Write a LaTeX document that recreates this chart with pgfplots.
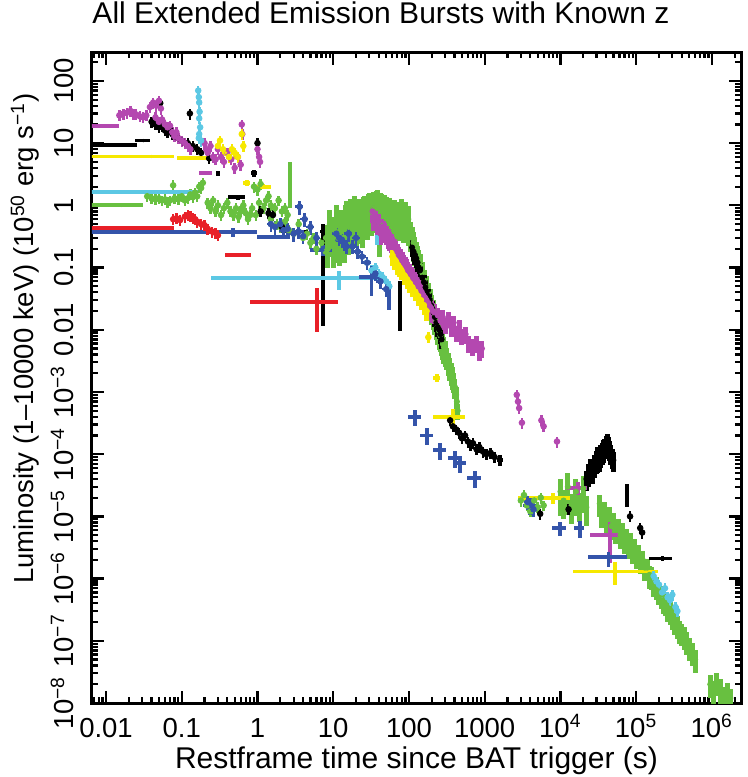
\documentclass[border=0pt]{standalone}
\usepackage{fontspec}
\setmainfont{Liberation Sans}
\usepackage{pgfplots}
\pgfplotsset{compat=1.18}
\definecolor{cmag}{RGB}{180,72,176}
\definecolor{ccyan}{RGB}{92,200,228}
\definecolor{cyel}{RGB}{246,232,0}
\definecolor{cgrn}{RGB}{104,192,64}
\definecolor{cblu}{RGB}{52,84,170}
\definecolor{cred}{RGB}{232,32,40}
\pgfplotsset{
  dots/.style={only marks, mark=*, mark size=1.1pt,
    error bars/x dir=both, error bars/x fixed relative=0.06,
    error bars/y dir=both, error bars/y fixed relative=0.2,
    error bars/error mark=none,
    error bars/error bar style={line width=1pt, solid}},
  bars/.style={only marks, mark=*, mark size=0.4pt,
    error bars/x dir=both, error bars/x explicit relative,
    error bars/y dir=both, error bars/y explicit relative,
    error bars/error mark=none,
    error bars/error bar style={line width=1.5pt, solid}},
  band/.style={only marks, mark=*, mark size=1pt,
    error bars/x dir=both, error bars/x fixed relative=0.015,
    error bars/y dir=both, error bars/y explicit relative,
    error bars/error mark=none,
    error bars/error bar style={line width=2pt, solid}},
}
\begin{document}
\begin{tikzpicture}
\path[use as bounding box] (-36.8pt,-29.6pt) rectangle (262.4pt,281.2pt);
\begin{axis}[
  at={(0pt,0pt)}, anchor=south west,
  scale only axis, width=259.6pt, height=260.4pt,
  xmode=log, ymode=log,
  xmin=0.00653, xmax=2.42e6, ymin=1e-8, ymax=292,
  axis line style={line width=1.2pt},
  tick align=inside,
  major tick length=5pt, minor tick length=2.5pt,
  every tick/.style={line width=0.9pt, black},
  xtick={0.01,0.1,1,10,100,1000,1e4,1e5,1e6},
  xticklabels={0.01,0.1,1,10,100,1000,10\textsuperscript{4},10\textsuperscript{5},10\textsuperscript{6}},
  minor xtick={7e-3,8e-3,9e-3,2e-2,3e-2,4e-2,5e-2,6e-2,7e-2,8e-2,9e-2,2e-1,3e-1,4e-1,5e-1,6e-1,7e-1,8e-1,9e-1,2,3,4,5,6,7,8,9,20,30,40,50,60,70,80,90,200,300,400,500,600,700,800,900,2e3,3e3,4e3,5e3,6e3,7e3,8e3,9e3,2e4,3e4,4e4,5e4,6e4,7e4,8e4,9e4,2e5,3e5,4e5,5e5,6e5,7e5,8e5,9e5,2e6},
  ytick={1e-8,1e-7,1e-6,1e-5,1e-4,1e-3,0.01,0.1,1,10,100},
  yticklabels={10\textsuperscript{−8},10\textsuperscript{−7},10\textsuperscript{−6},10\textsuperscript{−5},10\textsuperscript{−4},10\textsuperscript{−3},0.01,0.1,1,10,100},
  minor ytick={2e-8,3e-8,4e-8,5e-8,6e-8,7e-8,8e-8,9e-8,2e-7,3e-7,4e-7,5e-7,6e-7,7e-7,8e-7,9e-7,2e-6,3e-6,4e-6,5e-6,6e-6,7e-6,8e-6,9e-6,2e-5,3e-5,4e-5,5e-5,6e-5,7e-5,8e-5,9e-5,2e-4,3e-4,4e-4,5e-4,6e-4,7e-4,8e-4,9e-4,2e-3,3e-3,4e-3,5e-3,6e-3,7e-3,8e-3,9e-3,2e-2,3e-2,4e-2,5e-2,6e-2,7e-2,8e-2,9e-2,2e-1,3e-1,4e-1,5e-1,6e-1,7e-1,8e-1,9e-1,2,3,4,5,6,7,8,9,20,30,40,50,60,70,80,90,200},
  xticklabel style={font=\fontsize{11}{13}\selectfont, inner sep=0pt, text height=8pt, anchor=north},
  xticklabel shift=5.5pt,
  yticklabel style={font=\fontsize{11}{13}\selectfont, rotate=90, anchor=south, inner sep=0pt, text depth=0pt},
  yticklabel shift=7pt,
  title={All Extended Emission Bursts with Known z},
  title style={font=\fontsize{12}{14}\selectfont, at={(axis description cs:0,1)}, anchor=base west, inner sep=0pt, yshift=5.5pt},
  xlabel={Restframe time since BAT trigger (s)},
  xlabel style={font=\fontsize{12}{14}\selectfont, at={(axis description cs:0.5,-0.101)}, anchor=base, inner sep=0pt},
  ylabel={Luminosity (1–10000 keV) (10\textsuperscript{50} erg s\textsuperscript{−1})},
  ylabel style={font=\fontsize{11}{13}\selectfont, at={(axis description cs:-0.103,0.56)}, anchor=center, inner sep=0pt},
]
% ---------------- GREEN ----------------
\addplot[bars, color=cgrn] coordinates {
 (0.016,1.0) += (0.95,0) -= (0.99,0)
 (2.7,2.5) += (0.02,1.0) -= (0.02,0.64)
};
\addplot[dots, color=cgrn] coordinates {
 (0.035,1.4)(0.04,1.3)(0.045,1.25)(0.05,1.3)(0.055,1.2)(0.06,1.25)(0.065,1.15)(0.07,1.2)(0.077,2.1)(0.08,1.3)(0.09,1.25)(0.1,1.4)(0.11,1.2)(0.12,1.3)(0.13,1.5)(0.14,1.35)(0.15,1.6)(0.16,1.4)(0.17,2.0)(0.18,1.9)(0.19,2.3)
 (0.22,1.1)(0.24,0.9)(0.26,1.2)(0.28,0.8)(0.3,1.0)(0.33,0.7)(0.36,0.9)(0.4,1.1)(0.44,0.8)(0.48,0.7)(0.52,0.9)(0.56,0.65)(0.6,0.8)(0.65,1.0)(0.7,0.75)(0.75,0.6)(0.8,0.7)(0.85,0.9)(0.9,2.0)(0.95,0.7)(1.0,1.8)(1.05,1.1)(1.1,2.2)(1.2,0.9)(1.3,1.2)(1.4,1.4)(1.5,1.0)(1.7,0.9)(1.9,1.2)(2.1,0.8)(2.3,0.9)(2.5,0.7)
 (1.5,0.6)(1.8,0.5)(2.0,0.45)(2.3,0.55)(2.6,0.4)(3.0,0.35)(3.5,0.5)(4.0,0.3)(4.5,0.35)(5,0.25)(5.5,0.3)(6,0.2)(7,0.25)(8,0.18)(9,0.22)
 (3000,1.8e-5)(3300,2.2e-5)(3600,1.5e-5)(4000,1.2e-5)(4500,1.8e-5)(5000,1.4e-5)(5500,2.0e-5)(6000,1.5e-5)
};
\addplot[band, color=cgrn] coordinates {
 (8,0.3) +- (0,0.6) (8.5,0.2) +- (0,0.5) (9,0.5) +- (0,0.7) (9.5,0.3) +- (0,0.5) (10,0.25) +- (0,0.6)
 (10.5,0.4) +- (0,0.6) (11,0.6) +- (0,0.7) (11.5,0.3) +- (0,0.6) (12,0.35) +- (0,0.7) (12.5,0.5) +- (0,0.6)
 (13,0.5) +- (0,0.7) (13.5,0.3) +- (0,0.5) (14,0.3) +- (0,0.6) (14.5,0.6) +- (0,0.7) (15,0.7) +- (0,0.7)
 (16,0.45) +- (0,0.65) (17,0.8) +- (0,0.6) (18,0.5) +- (0,0.6) (19,0.9) +- (0,0.6) (20,0.55) +- (0,0.6)
 (21,0.7) +- (0,0.6) (22,0.8) +- (0,0.6) (23,0.6) +- (0,0.6) (24,0.6) +- (0,0.65) (25,0.9) +- (0,0.5)
 (26,0.9) +- (0,0.6) (27,0.7) +- (0,0.55) (28,0.7) +- (0,0.6) (29,1.0) +- (0,0.5) (30,1.0) +- (0,0.6)
 (31,0.8) +- (0,0.55) (32,0.8) +- (0,0.6) (33,1.1) +- (0,0.45) (34,1.1) +- (0,0.5) (35,0.9) +- (0,0.5)
 (36,0.9) +- (0,0.6) (37,1.2) +- (0,0.4) (38,1.2) +- (0,0.45) (39,1.0) +- (0,0.5) (40,0.9) +- (0,0.55)
 (41,0.5) +- (0,0.7) (42,1.1) +- (0,0.45) (43,1.0) +- (0,0.5) (45,0.95) +- (0,0.5) (46,0.85) +- (0,0.55)
 (48,1.0) +- (0,0.45) (50,0.9) +- (0,0.5) (52,0.85) +- (0,0.5) (54,0.75) +- (0,0.55) (56,0.9) +- (0,0.45)
 (58,0.8) +- (0,0.5) (60,0.75) +- (0,0.55) (63,0.7) +- (0,0.55) (65,0.8) +- (0,0.5) (68,0.75) +- (0,0.5)
 (70,0.65) +- (0,0.55) (73,0.6) +- (0,0.55) (76,0.65) +- (0,0.5) (80,0.8) +- (0,0.6) (82,0.6) +- (0,0.5)
 (85,0.55) +- (0,0.55) (90,0.7) +- (0,0.6) (94,0.55) +- (0,0.5) (98,0.6) +- (0,0.6)
 (100,0.45) +- (0,0.5) (105,0.36) +- (0,0.5) (110,0.3) +- (0,0.5) (115,0.25) +- (0,0.5) (120,0.21) +- (0,0.5)
 (125,0.175) +- (0,0.5) (130,0.15) +- (0,0.5) (135,0.128) +- (0,0.5) (140,0.11) +- (0,0.5) (150,0.082) +- (0,0.5)
 (160,0.062) +- (0,0.5) (170,0.048) +- (0,0.5) (180,0.038) +- (0,0.5) (190,0.03) +- (0,0.5) (200,0.024) +- (0,0.5)
 (210,0.02) +- (0,0.5) (220,0.0164) +- (0,0.5) (230,0.0137) +- (0,0.5) (240,0.0113) +- (0,0.5) (250,0.0096) +- (0,0.5)
 (260,0.0081) +- (0,0.45) (270,0.007) +- (0,0.45) (280,0.0059) +- (0,0.45) (290,0.0052) +- (0,0.45) (300,0.0045) +- (0,0.45)
 (315,0.0037) +- (0,0.4) (330,0.003) +- (0,0.4) (345,0.0025) +- (0,0.4) (360,0.0021) +- (0,0.4) (375,0.0018) +- (0,0.4)
 (390,0.0015) +- (0,0.35) (405,0.0012) +- (0,0.35) (420,0.0009) +- (0,0.35) (430,0.0007) +- (0,0.3) (440,0.0005) +- (0,0.3)
 (10000,2.5e-5) +- (0,0.6) (11000,1.8e-5) +- (0,0.5) (12500,3e-5) +- (0,0.65) (14000,1.5e-5) +- (0,0.5)
 (16000,2.5e-5) +- (0,0.6) (18000,1.6e-5) +- (0,0.5) (20000,2.8e-5) +- (0,0.6) (22000,1.4e-5) +- (0,0.5)
 (33000,1.6e-5) +- (0,0.4) (35000,1.1e-5) +- (0,0.4) (38000,1.2e-5) +- (0,0.4) (40000,0.9e-5) +- (0,0.4)
 (44000,1.0e-5) +- (0,0.4) (47000,7e-6) +- (0,0.4) (50000,8e-6) +- (0,0.4) (54000,6e-6) +- (0,0.4)
 (58000,6.5e-6) +- (0,0.4) (62000,5e-6) +- (0,0.4) (66000,5.5e-6) +- (0,0.4) (70000,4.2e-6) +- (0,0.4)
 (75000,4.5e-6) +- (0,0.4) (80000,3.5e-6) +- (0,0.4) (85000,3.8e-6) +- (0,0.4) (90000,2.9e-6) +- (0,0.4)
 (96000,3.1e-6) +- (0,0.4) (100000,2.4e-6) +- (0,0.4) (108000,2.5e-6) +- (0,0.4) (115000,2.0e-6) +- (0,0.4)
 (122000,2.0e-6) +- (0,0.4) (130000,1.5e-6) +- (0,0.4) (140000,1.5e-6) +- (0,0.4) (150000,1.15e-6) +- (0,0.4)
 (160000,1.1e-6) +- (0,0.4) (170000,8.5e-7) +- (0,0.4) (185000,7.5e-7) +- (0,0.4) (200000,6.2e-7) +- (0,0.4)
 (215000,5.5e-7) +- (0,0.4) (230000,4.5e-7) +- (0,0.4) (245000,4.2e-7) +- (0,0.4) (260000,3.4e-7) +- (0,0.4)
 (280000,3.0e-7) +- (0,0.4) (300000,2.5e-7) +- (0,0.4) (325000,2.1e-7) +- (0,0.4) (350000,1.8e-7) +- (0,0.4)
 (375000,1.5e-7) +- (0,0.4) (400000,1.35e-7) +- (0,0.4) (430000,1.2e-7) +- (0,0.4) (460000,1.0e-7) +- (0,0.4)
 (500000,8e-8) +- (0,0.4) (550000,6.5e-8) +- (0,0.4) (600000,5e-8) +- (0,0.4)
 (950000,2e-8) +- (0,0.4) (1.05e6,1.6e-8) +- (0,0.4) (1.15e6,2.2e-8) +- (0,0.4) (1.3e6,1.6e-8) +- (0,0.5)
 (1.45e6,1.2e-8) +- (0,0.5) (1.6e6,1.5e-8) +- (0,0.4) (1.75e6,1.2e-8) +- (0,0.4)
};
% ---------------- BLACK ----------------
\addplot[bars, color=black] coordinates {
 (0.013,9.4) += (1,0) -= (0.97,0)
 (0.031,11) +- (0.23,0)
 (0.3,3.3) +- (0.07,0.1)
 (0.9,3.3) +- (0.1,0.12)
 (0.55,1.35) +- (0.25,0.08)
 (3.4,0.38) +- (0.35,0.05)
 (7.3,0.38) += (0.07,0.3) -= (0.07,0.97)
 (76,0.035) +- (0.02,0.73)
 (1600,8e-5) +- (0.1,0.2)
 (223000,2.1e-6) +- (0.34,0.1)
 (76000,2.4e-5) +- (0.03,0.4)
};
\addplot[dots, color=black] coordinates {
 (0.04,22)(0.045,20)(0.05,18)(0.052,44)(0.055,19)(0.06,16)(0.065,15)(0.07,17)(0.075,14)(0.08,13)(0.09,12)(0.1,11)(0.11,10)(0.12,10)(0.128,30)(0.14,9)(0.16,8)(0.18,7)(0.23,5.7)(1.0,10)(1.1,0.8)(1.4,0.75)(1.6,0.7)(2.1,0.45)
 (350,3.5e-4)(380,2.8e-4)(420,2.5e-4)(460,2.2e-4)(500,1.8e-4)(550,2e-4)(600,1.6e-4)(650,1.4e-4)(700,1.5e-4)(780,1.2e-4)(850,1.3e-4)(950,1.1e-4)(1050,1.0e-4)(1200,1.05e-4)(1350,9e-5)
 (5400,1.1e-5)(12800,1.3e-5)
 (83000,1e-5)(113000,6.5e-6)(120000,5.5e-6)
};
\addplot[band, color=black] coordinates {
 (110,0.21) +- (0,0.3) (115,0.18) +- (0,0.3) (120,0.16) +- (0,0.3) (125,0.14) +- (0,0.3) (130,0.12) +- (0,0.3)
 (135,0.10) +- (0,0.3) (140,0.09) +- (0,0.3) (150,0.069) +- (0,0.3) (158,0.058) +- (0,0.3) (165,0.048) +- (0,0.3)
 (172,0.041) +- (0,0.3) (180,0.035) +- (0,0.3) (188,0.03) +- (0,0.3) (195,0.025) +- (0,0.3) (203,0.022) +- (0,0.3)
 (210,0.019) +- (0,0.3) (220,0.016) +- (0,0.3) (230,0.013) +- (0,0.3) (240,0.011) +- (0,0.3) (250,0.010) +- (0,0.3)
 (260,0.0085) +- (0,0.3) (270,0.007) +- (0,0.3)
 (22000,4e-5) +- (0,0.35) (23500,5e-5) +- (0,0.4) (25000,6e-5) +- (0,0.4) (26500,5.5e-5) +- (0,0.4)
 (28000,7e-5) +- (0,0.4) (29500,8e-5) +- (0,0.4) (31000,9e-5) +- (0,0.45) (32500,8.5e-5) +- (0,0.4)
 (34000,1.0e-4) +- (0,0.4) (35500,1.1e-4) +- (0,0.4) (37000,1.2e-4) +- (0,0.4) (38500,1.3e-4) +- (0,0.35)
 (40000,1.45e-4) +- (0,0.35) (41500,1.6e-4) +- (0,0.3) (43000,1.4e-4) +- (0,0.35) (44500,1.2e-4) +- (0,0.35)
 (46000,1.05e-4) +- (0,0.35) (48000,9e-5) +- (0,0.35) (50000,8e-5) +- (0,0.35)
};
% ---------------- MAGENTA ----------------
\addplot[bars, color=cmag] coordinates {
 (0.0075,19) +- (0.95,0)
 (0.21,3.3) +- (0.2,0.08)
 (17000,2.9e-5) +- (0.3,0.25)
 (45000,5e-6) +- (0.45,0.65)
};
\addplot[dots, color=cmag] coordinates {
 (0.015,28)(0.017,30)(0.019,31)(0.021,33)(0.023,30)(0.025,29)(0.028,27)(0.031,26)(0.034,28)
 (0.038,38)(0.042,45)(0.046,40)(0.050,48)(0.053,36)
 (0.045,26)(0.050,22)(0.055,24)(0.060,20)(0.065,18)(0.070,19)(0.075,15)(0.080,13)(0.085,15)(0.090,12)(0.10,11)(0.11,10)(0.12,9)(0.13,8)
 (0.20,10)(0.21,8)(0.22,7)(0.24,9)(0.26,6)(0.28,5.5)
 (0.30,8)(0.33,6)(0.36,5)(0.40,7)(0.45,5.5)(0.50,4)(0.55,6)(0.60,4.5)(0.62,20)(0.63,14)
 (1.0,8)(1.05,6)(1.08,5)
 (2650,9e-4)(2750,7e-4)(2850,5.5e-4)(3100,3.2e-4)(5600,3.5e-4)(6000,2.8e-4)(9000,1.6e-4)
};
\addplot[band, color=cmag] coordinates {
 (33,0.80) +- (0,0.35) (34,0.6) +- (0,0.35) (35,0.75) +- (0,0.35) (36,0.67) +- (0,0.35) (38,0.45) +- (0,0.35)
 (40,0.54) +- (0,0.35) (42,0.35) +- (0,0.35) (44,0.45) +- (0,0.35) (46,0.42) +- (0,0.35) (48,0.38) +- (0,0.35)
 (50,0.35) +- (0,0.35) (53,0.31) +- (0,0.35) (55,0.28) +- (0,0.35) (58,0.26) +- (0,0.35) (61,0.23) +- (0,0.35)
 (64,0.21) +- (0,0.35) (67,0.2) +- (0,0.35) (70,0.18) +- (0,0.35) (73,0.16) +- (0,0.35) (77,0.147) +- (0,0.35)
 (81,0.13) +- (0,0.35) (85,0.12) +- (0,0.35) (89,0.11) +- (0,0.35) (93,0.10) +- (0,0.35) (97,0.09) +- (0,0.35)
 (102,0.084) +- (0,0.35) (107,0.075) +- (0,0.35) (112,0.069) +- (0,0.35) (117,0.063) +- (0,0.35) (123,0.058) +- (0,0.35)
 (129,0.052) +- (0,0.35) (135,0.048) +- (0,0.35) (141,0.044) +- (0,0.35) (148,0.040) +- (0,0.35) (155,0.036) +- (0,0.35)
 (163,0.033) +- (0,0.35) (171,0.030) +- (0,0.35) (180,0.027) +- (0,0.35) (189,0.024) +- (0,0.35) (198,0.022) +- (0,0.35)
 (206,0.02) +- (0,0.35) (215,0.019) +- (0,0.35)
 (240,0.017) +- (0,0.3) (260,0.014) +- (0,0.3) (280,0.016) +- (0,0.3) (300,0.012) +- (0,0.3) (330,0.015) +- (0,0.3)
 (360,0.011) +- (0,0.3) (390,0.013) +- (0,0.3) (420,0.009) +- (0,0.3) (460,0.011) +- (0,0.3) (500,0.008) +- (0,0.3)
 (560,0.0085) +- (0,0.3) (620,0.006) +- (0,0.3) (700,0.0055) +- (0,0.3) (780,0.006) +- (0,0.3) (850,0.0045) +- (0,0.3)
 (920,0.005) +- (0,0.3)
};
% ---------------- YELLOW ----------------
\addplot[bars, color=cyel] coordinates {
 (0.04,6.1) +- (0.99,0)
 (0.19,5.7) +- (0.55,0)
 (0.38,7) +- (0.08,0.1)
 (1.2,2.0) +- (0.25,0.1)
 (0.72,2.3) +- (0.1,0.12)
 (234,1.7e-3) +- (0.1,0.15)
 (380,4e-4) +- (0.45,0.35)
 (8000,2e-5) +- (0.66,0.2)
 (52500,1.3e-6) += (2.7,0.4) -= (0.72,0.4)
};
\addplot[dots, color=cyel] coordinates {
 (0.3,9)(0.32,11)(0.35,8)(0.42,6)(0.46,8)(0.5,7)(0.55,6)(0.62,14)(0.65,9)(180,0.0076)
};
\addplot[band, color=cyel] coordinates {
 (60,0.15) +- (0,0.3) (65,0.13) +- (0,0.3) (70,0.11) +- (0,0.3) (75,0.10) +- (0,0.3) (80,0.09) +- (0,0.3)
 (87,0.075) +- (0,0.3) (95,0.065) +- (0,0.3) (103,0.056) +- (0,0.3) (112,0.048) +- (0,0.3) (122,0.041) +- (0,0.3)
 (133,0.035) +- (0,0.3) (145,0.03) +- (0,0.3) (158,0.025) +- (0,0.3) (172,0.02) +- (0,0.3)
};
% ---------------- CYAN ----------------
\addplot[bars, color=ccyan] coordinates {
 (0.085,1.64) += (0.9,0) -= (0.99,0)
 (12,0.068) += (2.5,0.3) -= (0.98,0.35)
 (38,0.28) +- (0.03,0.18)
};
\addplot[dots, color=ccyan] coordinates {
 (0.165,70)(0.168,55)(0.17,45)(0.172,32)(0.17,25)(0.175,18)(0.17,14)(0.168,12)(0.18,11)
 (28,0.12)(32,0.09)(36,0.1)(40,0.08)(45,0.07)(50,0.06)(55,0.05)
 (170000,1.1e-6)(185000,9e-7)(200000,8e-7)(220000,6e-7)(240000,7e-7)(260000,5e-7)(280000,4.5e-7)(300000,5.5e-7)(330000,3.5e-7)(350000,3e-7)
};
% ---------------- BLUE ----------------
\addplot[bars, color=cblu] coordinates {
 (0.5,0.37) += (1.0,0) -= (0.998,0)
 (1.85,0.31) +- (0.46,0)
 (0.47,0.37) +- (0.06,0.15)
 (7.3,0.19) +- (0.32,0.2)
 (32,0.07) +- (0.31,0.5)
 (55,0.033) +- (0.05,0.36)
 (120,4e-4) +- (0.2,0.3)
 (173,2e-4) +- (0.2,0.3)
 (257,1.17e-4) +- (0.2,0.3)
 (404,8.7e-5) +- (0.2,0.3)
 (475,7.2e-5) +- (0.2,0.3)
 (740,4.1e-5) +- (0.2,0.3)
 (4000,1.5e-5) +- (0.2,0.3)
 (9800,6.5e-6) +- (0.22,0.25)
 (18000,6.5e-6) +- (0.15,0.3)
 (43000,2.2e-6) += (0.77,0.2) -= (0.47,0.3)
};
\addplot[dots, color=cblu, error bars/x fixed relative=0.12, error bars/y fixed relative=0.25] coordinates {
 (1.5,0.5)(1.7,0.45)(2.0,0.5)(2.2,0.4)(2.5,0.42)(3.0,0.35)(3.5,0.38)(4.0,0.32)(3.6,0.95)(4.2,0.6)(5.0,0.45)(6,0.3)
 (11,0.35)(12,0.3)(13,0.28)(14,0.25)(15,0.22)(16,0.35)(18,0.22)(20,0.3)(21,0.18)(24,0.15)(28,0.12)(36,0.08)(42,0.06)(50,0.045)
 (3700,1.7e-5)(4400,1.3e-5)
};
% ---------------- RED ----------------
\addplot[bars, color=cred] coordinates {
 (0.04,0.43) += (1.0,0) -= (0.99,0)
 (0.6,0.16) +- (0.38,0.08)
 (6.1,0.028) +- (0.87,0.67)
};
\addplot[dots, color=cred] coordinates {
 (0.077,0.6)(0.085,0.62)(0.095,0.58)(0.11,0.66)(0.12,0.7)(0.13,0.68)(0.14,0.62)(0.15,0.6)(0.16,0.55)(0.18,0.5)(0.2,0.48)(0.22,0.42)(0.25,0.38)(0.28,0.36)(0.3,0.33)
};
\end{axis}
\end{tikzpicture}
\end{document}
